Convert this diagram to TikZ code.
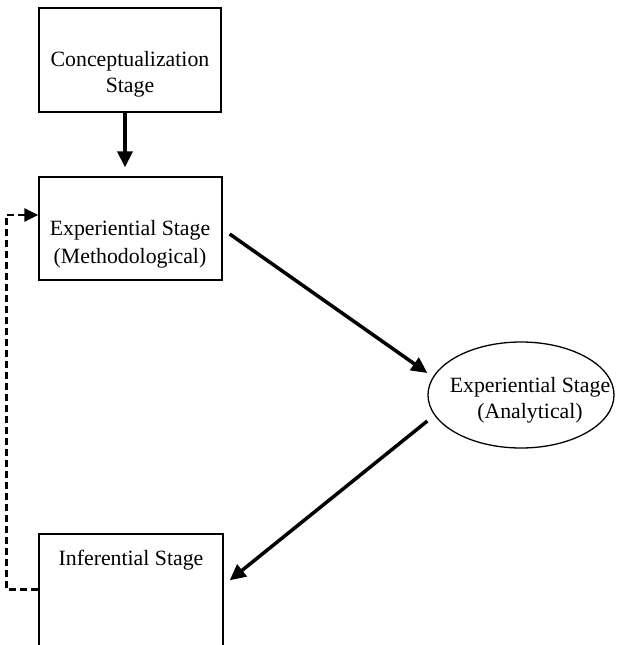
\documentclass[tikz,border=0pt]{standalone}
\usepackage{fontspec}
\setmainfont{Liberation Serif}
\usetikzlibrary{arrows.meta,shapes.geometric}
\begin{document}
\begin{tikzpicture}[x=1pt,y=-1pt,
  stagebox/.style={draw=black,line width=1.3pt,rectangle,inner sep=0pt},
  stageoval/.style={draw=black,line width=1.3pt,ellipse,inner sep=0pt},
  lbl/.style={font=\fontsize{21.8pt}{28pt}\selectfont,anchor=base,inner sep=0pt},
  flow/.style={line width=3.5pt,-{Triangle[length=16pt,width=15pt]}},
  back/.style={line width=2.7pt,dash pattern=on 7pt off 4pt,-{Triangle[length=14pt,width=13pt]}}]
\useasboundingbox (0,0) rectangle (616,645);
\clip (0,0) rectangle (616,645);
\node[stagebox,minimum width=182pt,minimum height=104pt] (b1) at (130,60) {};
\node[stagebox,minimum width=183pt,minimum height=103pt] (b2) at (130.5,228.5) {};
\node[stagebox,minimum width=184pt,minimum height=166pt] (b3) at (131,617) {};
\node[stageoval,minimum width=186pt,minimum height=106pt] (e) at (521,395) {};
\node[lbl] (t1a) at (130,66) {Conceptualization};
\node[lbl] (t1b) at (130,92) {Stage};
\node[lbl] (t2a) at (130,235) {Experiential Stage};
\node[lbl] (t2b) at (130,263) {(Methodological)};
\node[lbl] (t3) at (131,565) {Inferential Stage};
\node[lbl] (t4a) at (530,392) {Experiential Stage};
\node[lbl] (t4b) at (530,418) {(Analytical)};
\draw[flow] ([xshift=-5pt]b1.south) -- ([xshift=-5.5pt,yshift=9pt]b2.north);
\draw[flow] ([shift={(7,5.5)}]b2.east) -- ([shift={(0,-22)}]e.west);
\draw[flow] ([shift={(0,26)}]e.west) -- ([shift={(6,47)}]b3.north east);
\draw[back] ([shift={(0,56)}]b3.north west) -- ++(-32,0) |- ([shift={(0,-13.5)}]b2.west);
\end{tikzpicture}
\end{document}
